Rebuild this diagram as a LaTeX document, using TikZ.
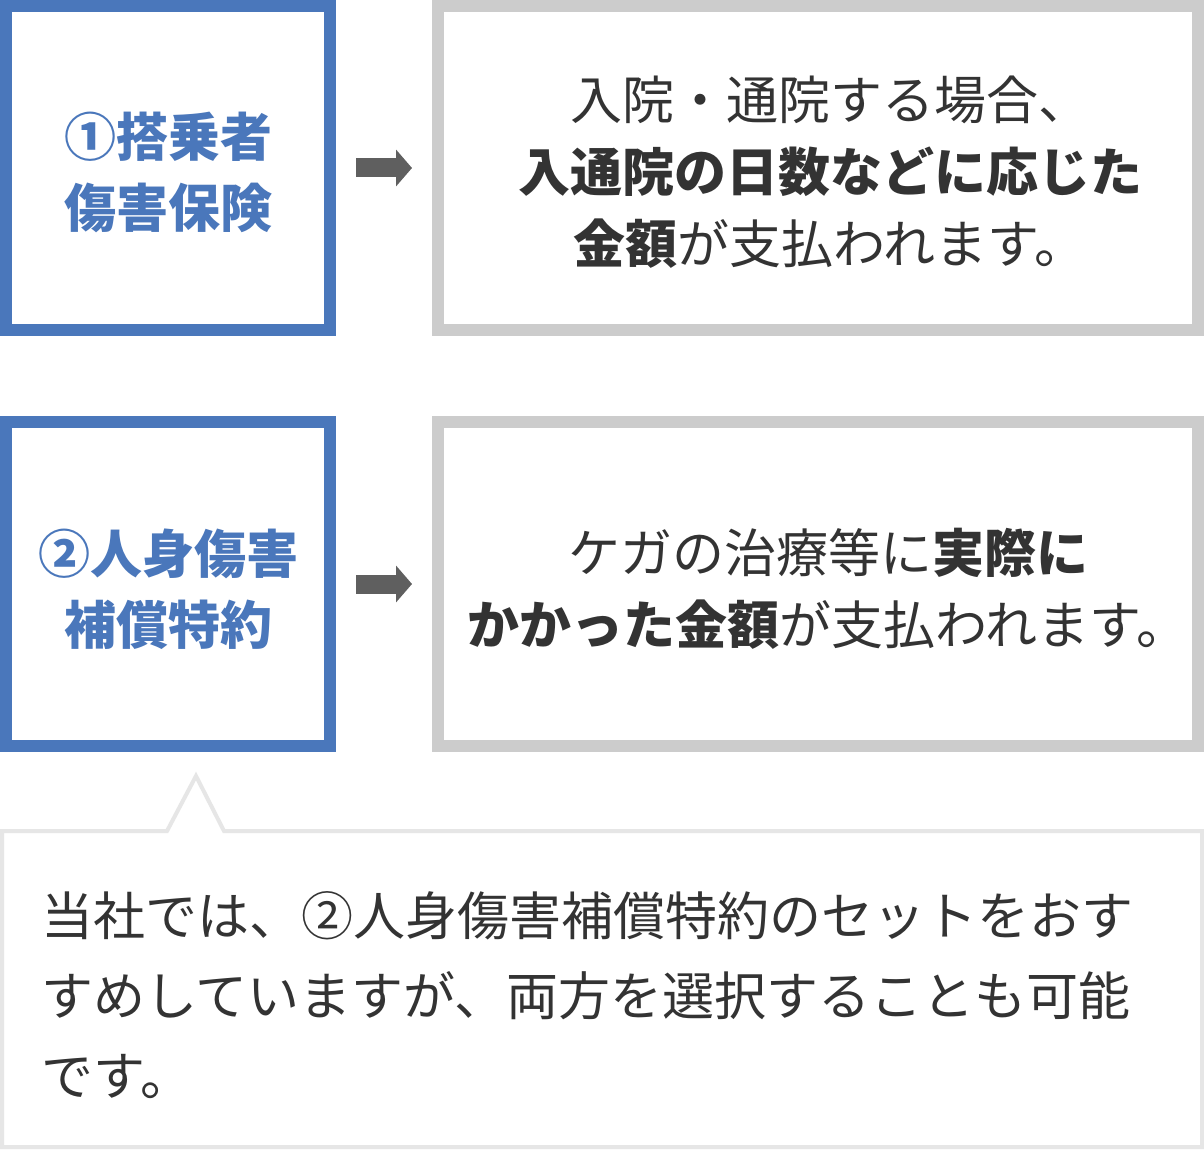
\documentclass[tikz,border=0pt]{standalone}
\usepackage{fontspec}
\setmainfont{Noto Sans CJK JP}
\usetikzlibrary{arrows.meta}
\definecolor{hblue}{HTML}{4A77BB}
\definecolor{txt}{HTML}{333333}
\definecolor{gbox}{HTML}{CCCCCC}
\definecolor{callgray}{HTML}{E6E6E6}
\definecolor{arr}{HTML}{5F5F5F}
\begin{document}
\begin{tikzpicture}[x=1pt,y=-1pt,
  bluebox/.style={draw=hblue,line width=12pt,minimum width=324pt,minimum height=324pt,inner sep=0pt},
  graybox/.style={draw=gbox,line width=12pt,minimum width=760pt,minimum height=324pt,inner sep=0pt},
  headtext/.style={text=hblue,font=\fontsize{52}{71}\selectfont\bfseries,align=center,inner sep=0pt},
  bodytext/.style={text=txt,font=\fontsize{52}{72}\selectfont,align=center,inner sep=0pt},
  calltext/.style={text=txt,font=\fontsize{52}{80}\selectfont,align=left,inner sep=0pt},
  flowarrow/.style={draw=arr,line width=19pt,-{Triangle[length=16pt,width=36pt]}},
  callout/.style={draw=callgray,line width=4pt,fill=white,line join=miter}]
\useasboundingbox (0,0) rectangle (1204,1150);
\fill[white] (0,0) rectangle (1204,1150);

\node[bluebox] (b1) at (168,168) {};
\node[graybox] (g1) at (818,168) {};
\node[bluebox] (b2) at (168,584) {};
\node[graybox] (g2) at (818,584) {};

\node[headtext] (t1) at (168,172) {①搭乗者\\傷害保険};
\node[bodytext] (s1) at (830,172) {入院・通院する場合、\\\textbf{入通院の日数などに応じた}\\\textbf{金額}が支払われます。};
\node[headtext] (t2) at (168,589) {②人身傷害\\補償特約};
\node[bodytext] (s2) at (828,589) {ケガの治療等に\textbf{実際に}\\\textbf{かかった金額}が支払われます。};

\draw[flowarrow] ([xshift=20pt]b1.east) -- ([xshift=-20pt]g1.west);
\draw[flowarrow] ([xshift=20pt]b2.east) -- ([xshift=-20pt]g2.west);

\draw[callout] (2,831) -- (167,831) -- (196,776) -- (224,831) -- (1202,831) -- (1202,1147) -- (2,1147) -- cycle;
\node[calltext,anchor=west] (ct) at (41,995) {当社では、②人身傷害補償特約のセットをおす\\すめしていますが、両方を選択することも可能\\です。};
\end{tikzpicture}
\end{document}
